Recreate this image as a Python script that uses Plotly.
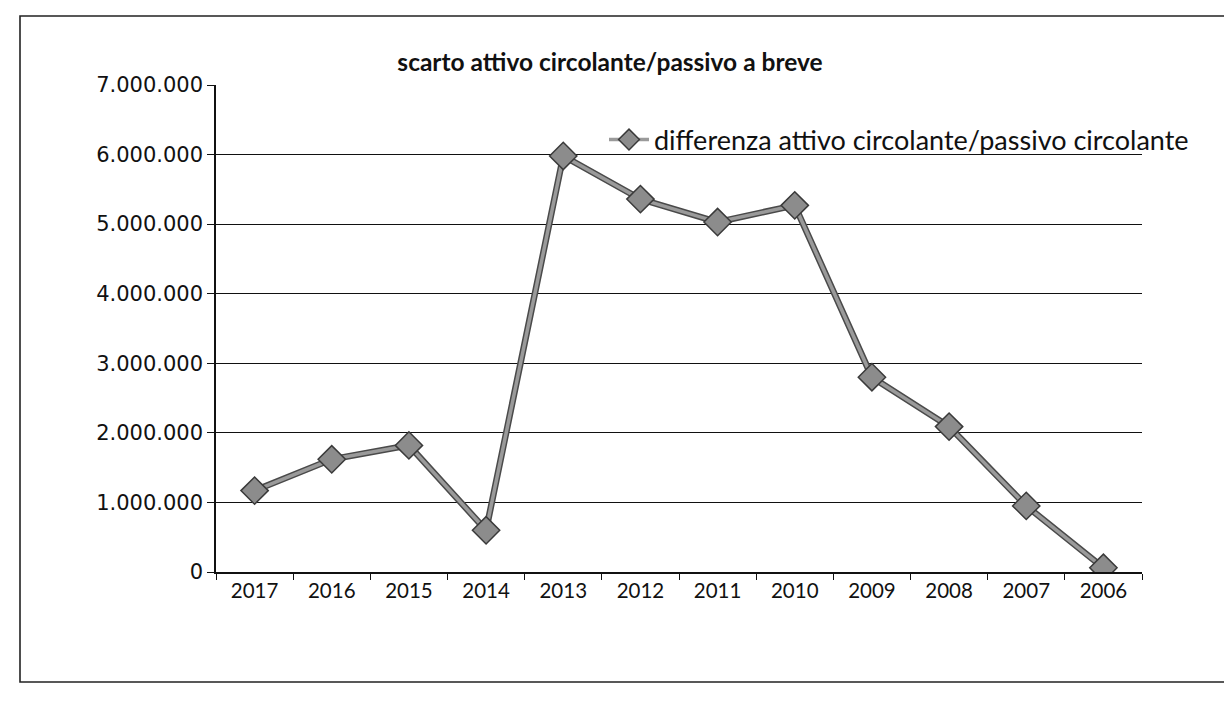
import plotly.graph_objects as go

# Working capital gap by year (euro)
years = ["2017", "2016", "2015", "2014", "2013", "2012",
         "2011", "2010", "2009", "2008", "2007", "2006"]
differenza = [1170000, 1620000, 1820000, 600000, 5980000, 5360000,
              5030000, 5270000, 2800000, 2090000, 950000, 60000]
y_ticks = [0, 1000000, 2000000, 3000000, 4000000, 5000000, 6000000, 7000000]

W, H = 1224, 702
L, R, T, B = 216, 82, 85, 130
pw, ph = W - L - R, H - T - B


def px_to_paper(x, y):
    return (x - L) / pw, (H - B - y) / ph


fig = go.Figure()
# dark edge under the series line
fig.add_trace(go.Scatter(
    x=years, y=differenza, mode="lines", showlegend=False,
    hoverinfo="skip",
    line=dict(color="#4a4a4a", width=6.5),
))
fig.add_trace(go.Scatter(
    x=years, y=differenza,
    mode="lines+markers",
    name="differenza attivo circolante/passivo circolante",
    line=dict(color="#9a9a9a", width=3.5),
    marker=dict(symbol="diamond", size=21, color="#8c8c8c",
                line=dict(color="#3a3a3a", width=1.5)),
))

# outer chart frame
x0, y0 = px_to_paper(20, 682)
x1, y1 = px_to_paper(1232, 16)
fig.add_shape(type="rect", xref="paper", yref="paper",
              x0=x0, y0=y0, x1=x1, y1=y1,
              line=dict(color="#222", width=1.6), layer="below")

fig.update_layout(
    width=W, height=H,
    margin=dict(l=L, r=R, t=T, b=B),
    paper_bgcolor="white", plot_bgcolor="white",
    separators=",.",
    showlegend=True,
    title=dict(text="<b>scarto attivo circolante/passivo a breve</b>",
               x=610 / W, xanchor="center", xref="container",
               y=1 - 62 / H, yanchor="middle", yref="container",
               font=dict(family="Lato", size=24.5, color="#111")),
    legend=dict(x=px_to_paper(604, 0)[0], xanchor="left",
                y=px_to_paper(0, 140)[1], yanchor="middle",
                bgcolor="rgba(255,255,255,0)",
                font=dict(family="Lato", size=27, color="#111"),
                itemwidth=40),
    xaxis=dict(type="category", showgrid=False,
               showline=True, linecolor="#111", linewidth=1.5,
               ticks="outside", tickson="boundaries", ticklen=6,
               tickcolor="#111",
               tickfont=dict(family="Lato", size=20.5, color="#111"),
               range=[-0.5, 11.5]),
    yaxis=dict(range=[0, 7000000], tickvals=y_ticks, tickformat=",d",
               showgrid=True, gridcolor="#111", gridwidth=1.2,
               showline=True, linecolor="#111", linewidth=1.5,
               ticks="outside", ticklen=7, tickcolor="#111",
               zeroline=False,
               tickfont=dict(family="DejaVu Sans", size=21, color="#111")),
)

fig.write_html("out.html")
